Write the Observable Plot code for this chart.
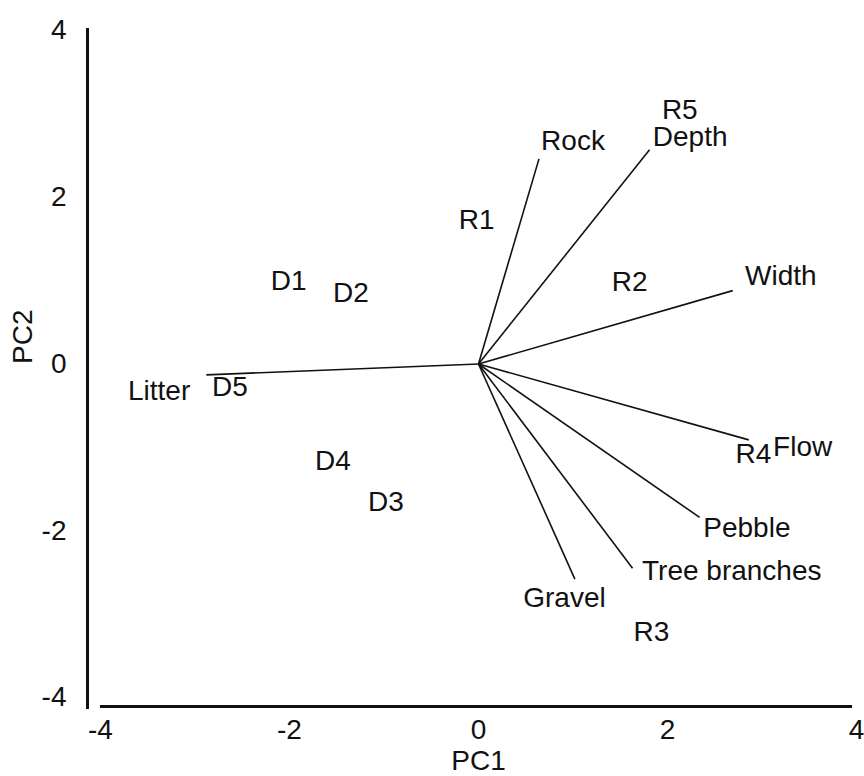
<!DOCTYPE html>
<html>
<head>
<meta charset="utf-8">
<script src="https://cdn.jsdelivr.net/npm/d3@7"></script>
<script src="https://cdn.jsdelivr.net/npm/@observablehq/plot@0.6"></script>
<style>
  html, body { margin: 0; padding: 0; background: #fff; }
  #chart { width: 864px; height: 776px; }
</style>
</head>
<body>
<div id="chart"></div>
<script>
// Environmental variable loadings (vector tips)
const variables = ["Rock", "Depth", "Width", "Flow", "Pebble", "Tree branches", "Gravel", "Litter"];
const loadX = [0.64, 1.81, 2.69, 2.86, 2.34, 1.63, 1.02, -2.88];
const loadY = [2.46, 2.57, 0.88, -0.91, -1.84, -2.45, -2.58, -0.13];
// Positions of the variable labels
const varLabelX = [1.00, 2.24, 3.20, 3.43, 2.84, 2.68, 0.91, -3.38];
const varLabelY = [2.67, 2.72, 1.06, -1.00, -1.97, -2.48, -2.81, -0.32];

// Site scores
const sites = ["R1", "R2", "R3", "R4", "R5", "D1", "D2", "D3", "D4", "D5"];
const siteX = [-0.02, 1.60, 1.83, 2.91, 2.13, -2.01, -1.35, -0.98, -1.54, -2.63];
const siteY = [1.73, 0.98, -3.22, -1.08, 3.05, 1.00, 0.85, -1.66, -1.16, -0.28];

// Axis ticks
const xTicks = [-4, -2, 0, 2, 4];
const yTicks = [-4, -2, 0, 2, 4];
const domain = [-4, 4];

const vectors = variables.map((name, i) => ({name, x: loadX[i], y: loadY[i], lx: varLabelX[i], ly: varLabelY[i]}));
const siteData = sites.map((name, i) => ({name, x: siteX[i], y: siteY[i]}));

const font = "'Liberation Sans', Arial, Helvetica, sans-serif";
const fs = 28;

const chart = Plot.plot({
  width: 864,
  height: 776,
  marginTop: 30,
  marginBottom: 79,
  marginLeft: 100,
  marginRight: 8,
  x: {domain, axis: null},
  y: {domain, axis: null},
  style: {fontFamily: font, background: "#fff", color: "#111", overflow: "visible"},
  marks: [
    // axis lines
    Plot.ruleX([domain[0]], {y1: domain[0], y2: domain[1], dx: -13, insetTop: 12, insetBottom: 2, stroke: "#111", strokeWidth: 3}),
    Plot.ruleY([domain[0]], {x1: domain[0], x2: domain[1], dy: 9, insetRight: 4, stroke: "#111", strokeWidth: 3}),
    // tick labels
    Plot.text(xTicks, {x: d => d, frameAnchor: "bottom", dy: 41, text: d => String(d), fontSize: fs, fill: "#111"}),
    Plot.text(yTicks, {y: d => d, frameAnchor: "left", dx: -34, textAnchor: "end", text: d => String(d), fontSize: fs, fill: "#111"}),
    // axis titles
    Plot.text(["PC1"], {frameAnchor: "bottom", dy: 72, text: d => d, fontSize: fs, fill: "#111"}),
    Plot.text(["PC2"], {frameAnchor: "left", dx: -77, rotate: -90, text: d => d, fontSize: fs, fill: "#111"}),
    // loading vectors
    Plot.link(vectors, {x1: 0, y1: 0, x2: "x", y2: "y", stroke: "#111", strokeWidth: 1.6}),
    Plot.text(vectors, {x: "lx", y: "ly", text: "name", fontSize: fs, fill: "#111"}),
    // site labels
    Plot.text(siteData, {x: "x", y: "y", text: "name", fontSize: fs, fill: "#111"})
  ]
});
document.getElementById("chart").appendChild(chart);
</script>
</body>
</html>
